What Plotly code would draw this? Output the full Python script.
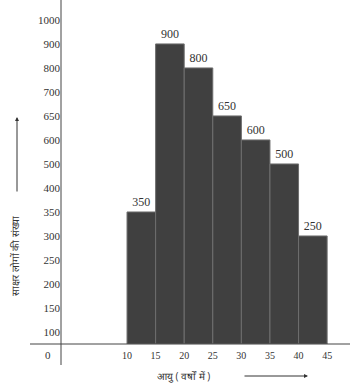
import numpy as np
import plotly.graph_objects as go

# Data
age_left = [10, 15, 20, 25, 30, 35, 40]
class_width = 5
freq_labels = [350, 900, 800, 650, 600, 500, 250]
# bar heights as read against the printed y-axis scale
freq_on_axis = [350, 900, 800, 650, 600, 500, 300]
x_ticks = [10, 15, 20, 25, 30, 35, 40, 45]
y_tick_labels = [100, 150, 200, 250, 300, 350, 400, 500, 600, 650, 700, 800, 900, 1000]

# printed axis is evenly spaced by label index
y_index = list(range(1, len(y_tick_labels) + 1))
baseline = 0.5
heights = np.interp(freq_on_axis, y_tick_labels, y_index)
centers = [a + class_width / 2 for a in age_left]

W, H = 356, 389
L, T, R, B = 61, 0, 6, 45
pw, ph = W - L - R, H - T - B

fig = go.Figure(go.Bar(
    x=centers, y=heights - baseline, base=baseline, width=class_width,
    marker=dict(color="#404040", line=dict(color="#6e6e6e", width=1)),
    text=[str(v) for v in freq_labels], textposition="outside",
    textfont=dict(family="Liberation Serif, serif", size=12, color="#333"),
    cliponaxis=False,
))

fig.update_layout(
    width=W, height=H, margin=dict(l=L, r=R, t=T, b=B, autoexpand=False),
    plot_bgcolor="white", paper_bgcolor="white", showlegend=False,
    xaxis=dict(range=[-1.55, 49.0], tickvals=x_ticks, ticktext=[str(v) for v in x_ticks],
               showgrid=False, zeroline=False, showline=False, ticks="", automargin=False,
               ticklabelstandoff=4,
               tickfont=dict(family="Liberation Serif, serif", size=10, color="#333")),
    yaxis=dict(range=[baseline, 14.83], tickvals=y_index, ticktext=[str(v) for v in y_tick_labels],
               showgrid=False, zeroline=False, showline=False, ticks="", automargin=False,
               tickfont=dict(family="Liberation Serif, serif", size=11, color="#333")),
    shapes=[
        dict(type="line", xref="paper", yref="paper", x0=0, x1=0, y0=1, y1=-(365 - 344) / ph,
             line=dict(color="#444", width=1)),
        dict(type="line", xref="paper", yref="paper", x0=-(61 - 30) / pw, x1=1, y0=0, y1=0,
             line=dict(color="#444", width=1)),
    ],
    annotations=[
        dict(text="0", xref="paper", yref="paper", x=(48 - L) / pw, y=-(355 - 344) / ph,
             xanchor="center", yanchor="middle",
             showarrow=False, font=dict(family="Liberation Serif, serif", size=11, color="#333")),
        dict(text="आयु ( वर्षों में )", xref="paper", yref="paper",
             x=(183 - L) / pw, y=-(376 - 344) / ph, xanchor="center", yanchor="middle",
             showarrow=False, font=dict(size=10, color="#333")),
        dict(text="", xref="paper", yref="paper", axref="pixel", ayref="pixel",
             x=(308 - L) / pw, y=-(376 - 344) / ph, ax=-65, ay=0,
             showarrow=True, arrowhead=2, arrowsize=0.8, arrowwidth=1, arrowcolor="#333"),
        dict(text="साक्षर लोगों की संख्या", xref="paper", yref="paper",
             x=(15 - L) / pw, y=(344 - 256) / ph, xanchor="center", yanchor="middle",
             textangle=-90, showarrow=False, font=dict(size=10, color="#333")),
        dict(text="", xref="paper", yref="paper", axref="pixel", ayref="pixel",
             x=(17 - L) / pw, y=(344 - 117) / ph, ax=0, ay=76,
             showarrow=True, arrowhead=2, arrowsize=0.8, arrowwidth=1, arrowcolor="#333"),
    ],
)

fig.write_html("out.html", config={"displayModeBar": False},
               post_script="document.body.style.margin='0px';")
